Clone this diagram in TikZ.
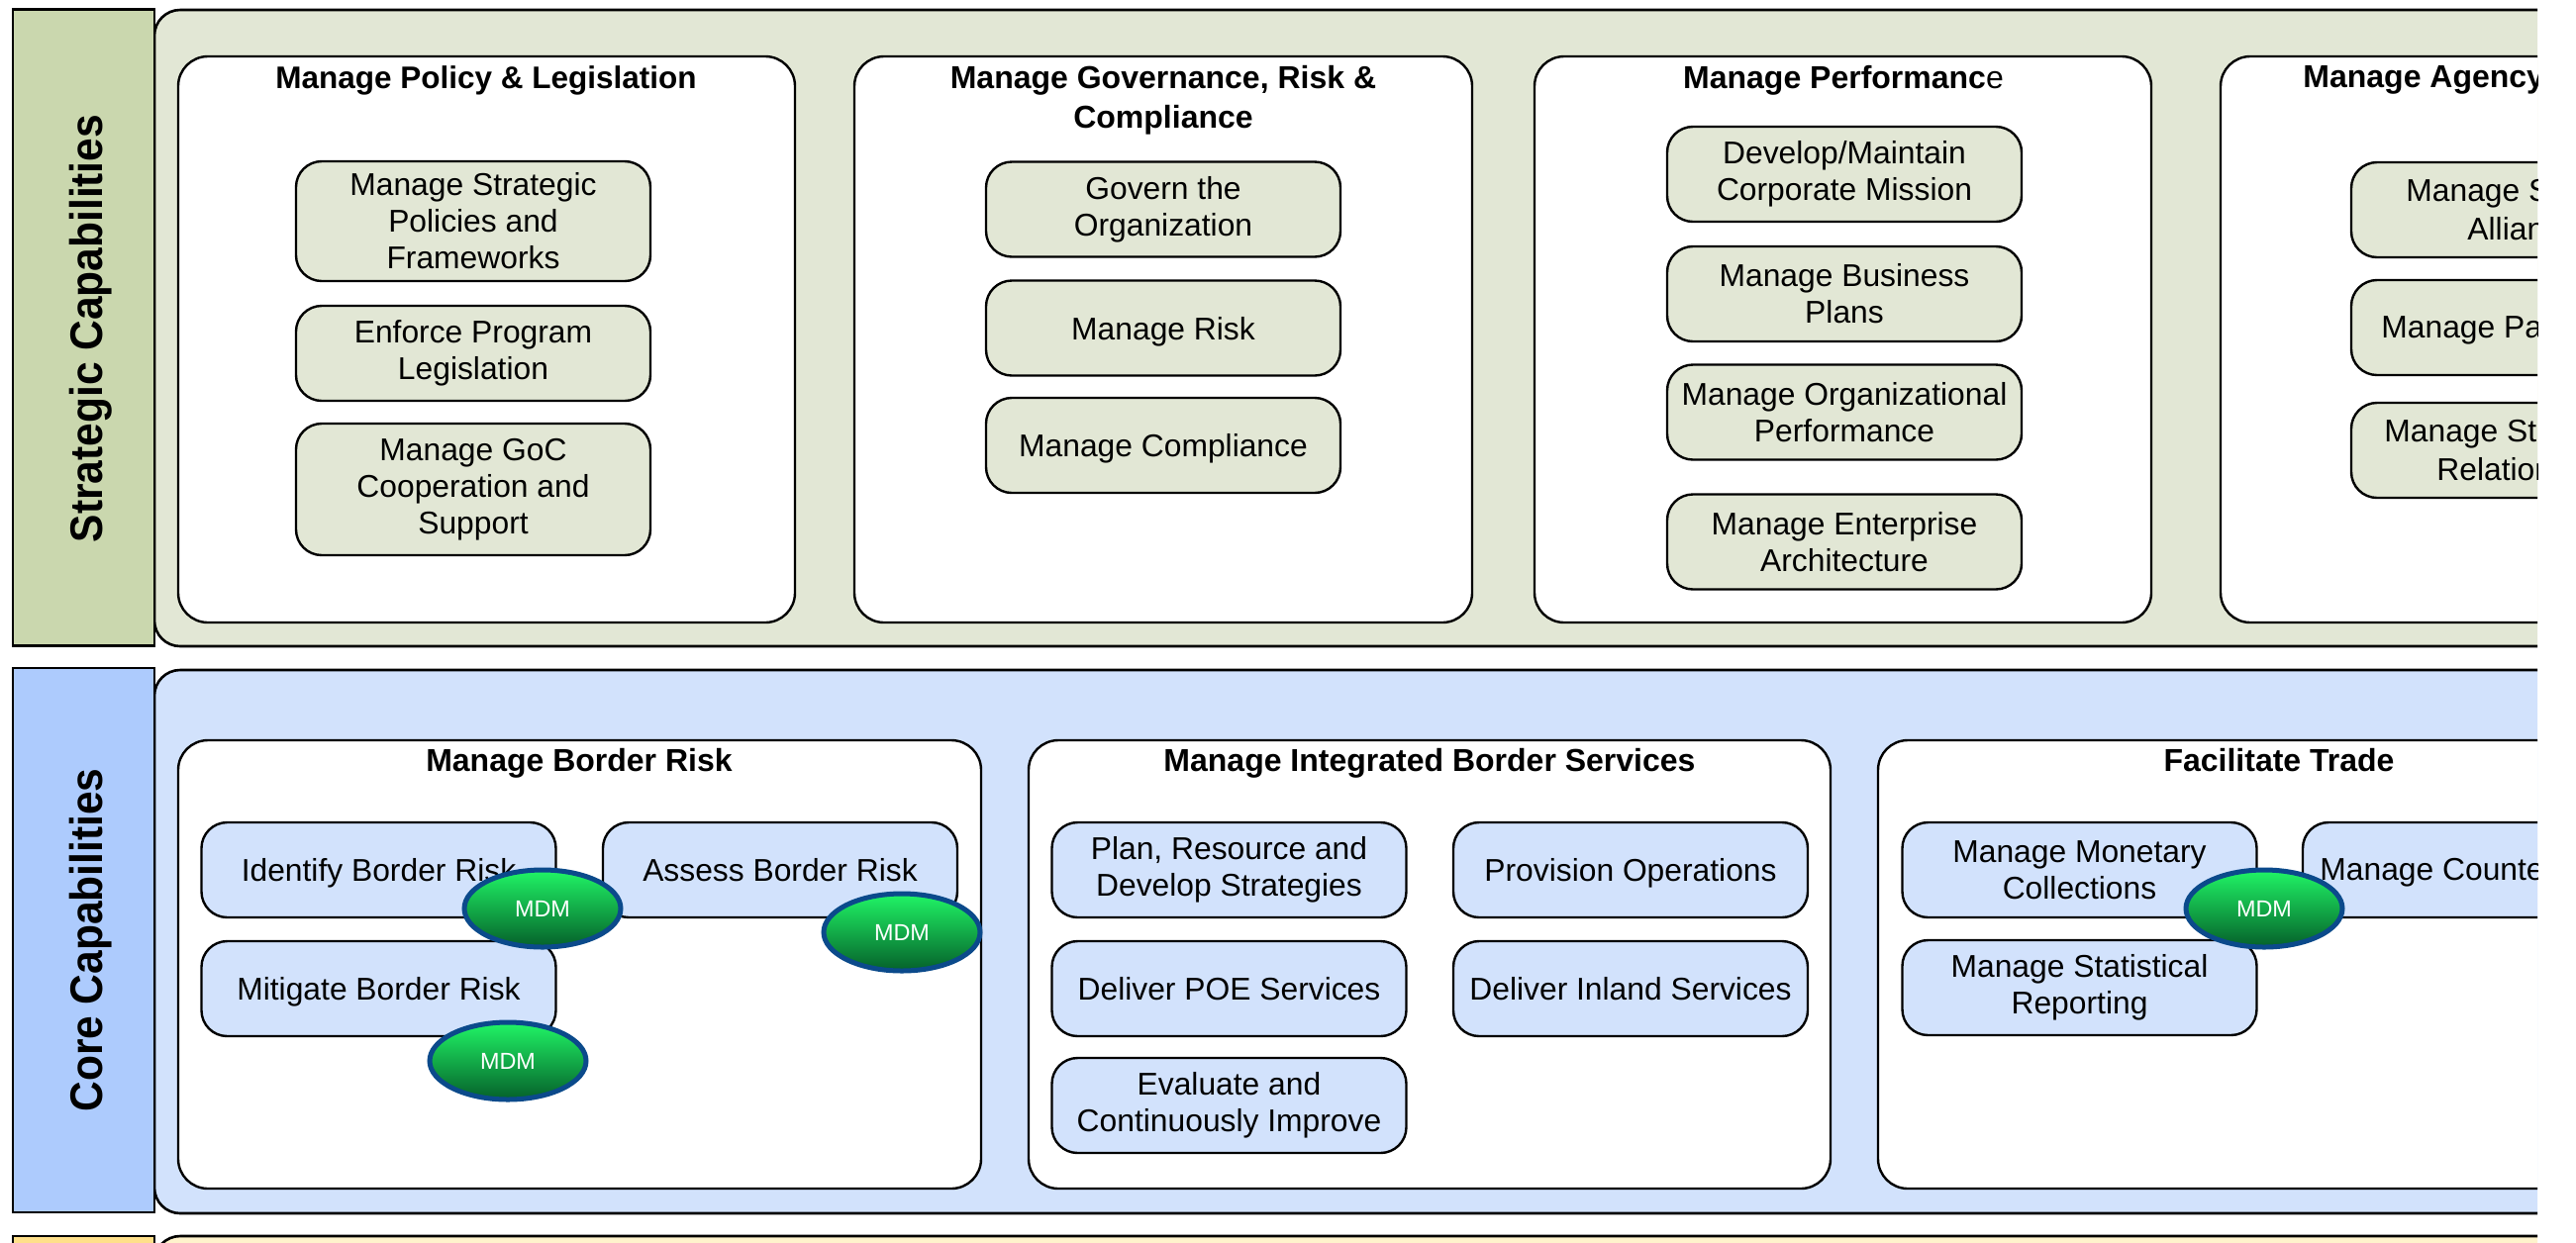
\documentclass[tikz,border=0pt]{standalone}
\usepackage{fontspec}
\setmainfont{Liberation Sans}
\newfontfamily\barfont[FakeStretch=0.924]{Liberation Sans}
\usetikzlibrary{shapes.geometric}

\definecolor{stratbar}{HTML}{CAD7AE}
\definecolor{stratfill}{HTML}{E2E7D5}
\definecolor{corebar}{HTML}{ADCBFD}
\definecolor{corefill}{HTML}{D2E2FC}
\definecolor{suppbar}{HTML}{FFE08A}
\definecolor{suppfill}{HTML}{FFF3CC}
\definecolor{mdmedge}{HTML}{0B4A8B}
\definecolor{mdmtop}{HTML}{20F566}
\definecolor{mdmmiddle}{HTML}{0C9A3C}
\definecolor{mdmbottom}{HTML}{05602A}

\tikzset{
    capbar/.style={draw=black, line width=1.3pt, outer sep=0pt, inner sep=0pt, rotate=90, minimum height=71.5pt},
    captext/.style={inner sep=0pt, rotate=90, font=\fontsize{23}{26}\selectfont\barfont\bfseries},
    cappanel/.style={draw=black, line width=1.3pt, outer sep=0pt, rounded corners=13pt, minimum width=1300pt},
    groupbox/.style={draw=black, fill=white, line width=1.2pt, outer sep=0pt, rounded corners=15pt, minimum height=#1},
    itembox/.style={draw=black, line width=1.2pt, outer sep=0pt, inner sep=0pt, rounded corners=13pt, align=center, minimum width=179pt, minimum height=#1, font=\fontsize{15.9}{18.5}\selectfont, execute at begin node={\rule{0pt}{16.4pt}}},
    oneline/.style={execute at end node={\rule[-4.9pt]{0pt}{16.4pt}}},
    stratitem/.style={itembox=#1, fill=stratfill},
    coreitem/.style={itembox=48pt, fill=corefill},
    grouptitle/.style={inner sep=0pt, align=center, font=\fontsize{16}{20}\selectfont\bfseries},
    cuttext/.style={inner sep=0pt, anchor=west, align=left, font=\fontsize{15.9}{19.4}\selectfont},
    mdmtag/.style={ellipse, draw=mdmedge, line width=2.5pt, top color=mdmtop, middle color=mdmmiddle, bottom color=mdmbottom, inner sep=0pt, minimum width=79pt, minimum height=39pt, text=white, font=\fontsize{11.7}{14}\selectfont}
}

\begin{document}
\begin{tikzpicture}[x=0.5pt,y=-0.5pt]
    \useasboundingbox (0,0) rectangle (2602,1255);
    \clip (0,0) rectangle (2563,1255);

    % strategic row
    \node[cappanel, fill=stratfill, minimum height=321.5pt, anchor=north west] (stratpanel) at (156,10) {};
    \node[capbar, fill=stratbar, minimum width=321.5pt] (stratbarnode) at (84.5,331) {};
    \node[captext] (strattext) at (92,332) {Strategic Capabilities};

    \node[groupbox=286pt, fill=white, minimum width=311.5pt, anchor=north west] (polgroup) at (180,57) {};
    \node[grouptitle, font=\fontsize{15.75}{20}\selectfont\bfseries] (poltitle) at (491,81) {Manage Policy \& Legislation};
    \node[stratitem=60.5pt] (polone) at (478,223.5) {Manage Strategic\\Policies and\\Frameworks};
    \node[stratitem=48pt] (poltwo) at (478,357) {Enforce Program\\Legislation};
    \node[stratitem=66.5pt] (polthree) at (478,494.5) {Manage GoC\\Cooperation and\\Support};

    \node[groupbox=286pt, minimum width=312pt, anchor=north west] (govgroup) at (863,57) {};
    \node[grouptitle] (govtitle) at (1175,101) {Manage Governance, Risk \&\\Compliance};
    \node[stratitem=48pt] (govone) at (1175,211.5) {Govern the\\Organization};
    \node[stratitem=48pt, oneline] (govtwo) at (1175,331.5) {Manage Risk};
    \node[stratitem=48pt, oneline] (govthree) at (1175,450) {Manage Compliance};

    \node[groupbox=286pt, minimum width=311.5pt, anchor=north west] (perfgroup) at (1550,57) {};
    \node[grouptitle] (perftitle) at (1862,81) {Manage Performanc{\normalfont e}};
    \node[stratitem=48pt] (perfone) at (1863,176) {Develop/Maintain\\Corporate Mission};
    \node[stratitem=48pt] (perftwo) at (1863,297) {Manage Business\\Plans};
    \node[stratitem=48pt] (perfthree) at (1863,416.5) {Manage Organizational\\Performance};
    \node[stratitem=48pt] (perffour) at (1863,547.5) {Manage Enterprise\\Architecture};

    \node[groupbox=286pt, minimum width=311.5pt, anchor=north west] (agygroup) at (2243,57) {};
    \node[grouptitle, anchor=west] (agytitle) at (2326,81) {Manage Agency};
    \node[stratitem=48pt] (agyone) at (2554,212) {};
    \node[stratitem=48pt] (agytwo) at (2554,331) {};
    \node[stratitem=48pt] (agythree) at (2554,455) {};
    \node[cuttext] (agyonetext) at (2430,212) {Manage S\\\hspace*{31pt}Allian};
    \node[cuttext] (agytwotext) at (2405,334) {Manage Pa};
    \node[cuttext] (agythreetext) at (2408,455) {Manage St\\\hspace*{26.5pt}Relation};

    % core row
    \node[cappanel, fill=corefill, minimum height=274.5pt, anchor=north west] (corepanel) at (156,677) {};
    \node[capbar, fill=corebar, minimum width=275pt] (corebarnode) at (84.5,950) {};
    \node[captext] (coretext) at (92,950) {Core Capabilities};

    \node[groupbox=226.5pt, minimum width=405.5pt, anchor=north west] (riskgroup) at (180,748) {};
    \node[grouptitle] (risktitle) at (585,771) {Manage Border Risk};
    \node[coreitem, oneline] (riskone) at (382.5,879) {Identify Border Risk};
    \node[coreitem, oneline] (risktwo) at (788,879) {Assess Border Risk};
    \node[coreitem, oneline] (riskthree) at (382.5,999) {Mitigate Border Risk};

    \node[groupbox=226.5pt, minimum width=405pt, anchor=north west] (svcgroup) at (1039,748) {};
    \node[grouptitle] (svctitle) at (1444,771) {Manage Integrated Border Services};
    \node[coreitem] (svcone) at (1241.5,879) {Plan, Resource and\\Develop Strategies};
    \node[coreitem, oneline] (svctwo) at (1647,879) {Provision Operations};
    \node[coreitem, oneline] (svcthree) at (1241.5,999) {Deliver POE Services};
    \node[coreitem, oneline] (svcfour) at (1647,999) {Deliver Inland Services};
    \node[coreitem] (svcfive) at (1241.5,1117) {Evaluate and\\Continuously Improve};

    \node[groupbox=226.5pt, minimum width=405pt, anchor=north west] (tradegroup) at (1897,748) {};
    \node[grouptitle] (tradetitle) at (2302,768) {Facilitate Trade};
    \node[coreitem] (tradeone) at (2100.5,879) {Manage Monetary\\Collections};
    \node[coreitem] (tradetwo) at (2505,879) {};
    \node[coreitem] (tradethree) at (2100.5,998) {Manage Statistical\\Reporting};

    \node[mdmtag] (mdmone) at (548,918) {MDM};
    \node[mdmtag] (mdmtwo) at (911,942) {MDM};
    \node[mdmtag] (mdmthree) at (513,1072) {MDM};
    \node[mdmtag] (mdmfour) at (2287,918) {MDM};
    \node[cuttext] (tradetwotext) at (2343,882) {Manage Counte};

    % third row, only its top edge shows
    \node[cappanel, fill=suppfill, minimum height=40pt, anchor=north west] (supppanel) at (156,1249) {};
    \node[capbar, fill=suppbar, minimum width=40pt] (suppbarnode) at (84.5,1289) {};
\end{tikzpicture}
\end{document}
